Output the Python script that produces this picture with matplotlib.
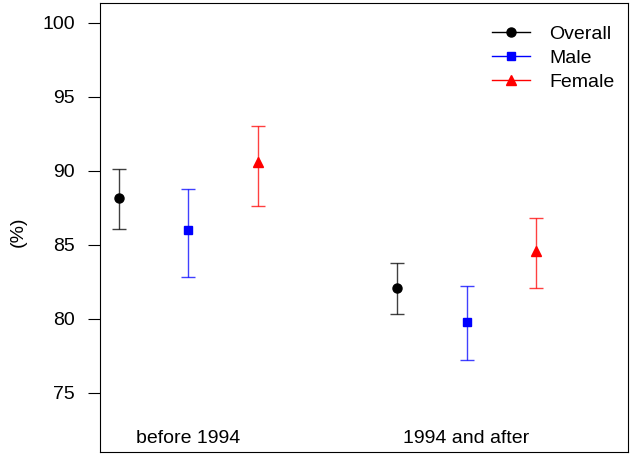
import matplotlib
matplotlib.use("Agg")
import matplotlib.pyplot as plt
import numpy as np
from matplotlib.lines import Line2D

plt.rcParams['font.family'] = ['Liberation Sans', 'DejaVu Sans']

groups = ["before 1994", "1994 and after"]
series = ["Overall", "Male", "Female"]
overall_est = [88.2, 82.1]
overall_lo = [86.1, 80.35]
overall_hi = [90.1, 83.8]
male_est = [86.0, 79.8]
male_lo = [82.8, 77.2]
male_hi = [88.8, 82.25]
female_est = [90.6, 84.6]
female_lo = [87.65, 82.1]
female_hi = [93.05, 86.8]

colors = ["black", "blue", "red"]
markers = ["o", "s", "^"]
msizes = [6.5, 6, 7.5]

fig = plt.figure(figsize=(6.32, 4.59), dpi=100)
ax = fig.add_axes([100/632, 7/459, 528/632, 449/459])

data = [(overall_est, overall_lo, overall_hi),
        (male_est, male_lo, male_hi),
        (female_est, female_lo, female_hi)]
group_pos = np.array([2.0, 6.0])
offsets = [-1.0, 0.0, 1.0]
for i, (est, lo, hi) in enumerate(data):
    x = group_pos + offsets[i]
    est = np.array(est); lo = np.array(lo); hi = np.array(hi)
    ax.errorbar(x, est, yerr=[est - lo, hi - est], fmt='none',
                ecolor=colors[i], elinewidth=1, capsize=5, capthick=1, alpha=0.75)
    ax.plot(x, est, linestyle='none', marker=markers[i], color=colors[i],
            markersize=msizes[i], label=series[i])

handles = [Line2D([], [], color=colors[i], marker=markers[i], markersize=msizes[i],
                  lw=1, label=series[i]) for i in range(3)]
ax.legend(handles=handles, loc='upper right', frameon=False, fontsize=14,
          handlelength=1.95, handletextpad=1.0, labelspacing=0.32,
          bbox_to_anchor=(1.0 + 4/528, 1.0 - 5/449))

for g, gp in zip(groups, group_pos):
    ax.text(gp, 71.9, g, ha='center', va='center', fontsize=14)

ax.set_xlim(0.73, 8.32)
ax.set_ylim(71.0, 101.35)
ax.set_yticks([75, 80, 85, 90, 95, 100])
ax.set_xticks([])
ax.tick_params(axis='y', length=9, width=0.8, pad=9, labelsize=14)
ax.set_ylabel("(%)", fontsize=14, va='center')
ax.yaxis.set_label_coords((18 - 100) / 528, 0.49)
for s in ax.spines.values():
    s.set_linewidth(0.8)

fig.savefig("out.png", dpi=100)
